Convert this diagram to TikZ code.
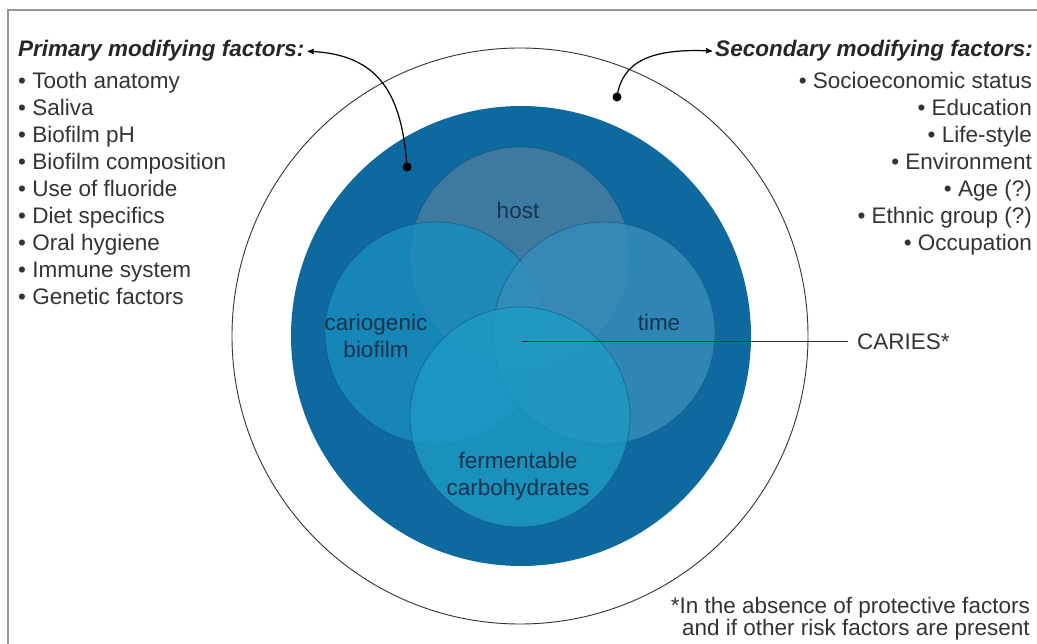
\documentclass[tikz,border=0pt]{standalone}
\usepackage{fontspec}
\setmainfont{Liberation Sans}
\usetikzlibrary{calc,positioning,arrows}
\definecolor{framegray}{RGB}{150,150,150}
\definecolor{darkring}{RGB}{14,106,158}
\definecolor{hostblue}{RGB}{75,126,160}
\definecolor{biofilmblue}{RGB}{24,141,190}
\definecolor{timeblue}{RGB}{54,141,187}
\definecolor{fermblue}{RGB}{29,155,195}
\definecolor{zonetext}{RGB}{22,50,78}
\tikzset{
>=stealth',
  factorhead/.style={
    font=\fontsize{22.5}{27}\selectfont\bfseries\itshape,
    text=black!85,
    inner sep=0pt},
  factorlist/.style={
    font=\fontsize{22.5}{27}\selectfont,
    text=black!80,
    inner sep=0pt},
  zone/.style={
    fill opacity=0.8,
    draw=darkring!70!black, draw opacity=0.5, line width=0.8pt},
  zonelabel/.style={
    font=\fontsize{22.5}{27}\selectfont,
    text=zonetext,
    align=center,
    inner sep=0pt},
  blackdot/.style={fill=black},
  pointer/.style={->, line width=1.2pt, shorten >=3pt},
}
\begin{document}
\begin{tikzpicture}[x=1pt,y=-1pt]
  \useasboundingbox (0,0) rectangle (1037,644);
  % frame
  \draw[framegray, line width=2pt] (8,644) -- (8,10) -- (1037,10);

  % outer ring and disc
  \draw[line width=0.9pt, black!80] (520,336) circle (288);
  \fill[darkring] (521,336) circle (230);

  % the four zones
  \path[zone, fill=hostblue]    (520,257) circle (110);
  \path[zone, fill=biofilmblue] (436,333) circle (111);
  \path[zone, fill=timeblue]    (604,333) circle (111);
  \path[zone, fill=fermblue]    (520,417) circle (110);

  \node[zonelabel] (host)    at (518,210) {host};
  \node[zonelabel] (biofilm) at (376,336) {cariogenic\\biofilm};
  \node[zonelabel] (time)    at (659,322) {time};
  \node[zonelabel] (ferm)    at (518,476) {fermentable\\carbohydrates};

  % caries
  \coordinate (cariescore) at (522,342);
  \node[factorlist, anchor=west] (caries) at (857,342) {CARIES*};
  \draw[line width=1pt, black!80, shorten >=9pt] (cariescore) -- (caries.west);

  % primary factors
  \node[factorhead, anchor=base west] (primhead) at (18,57) {Primary modifying factors:};
  \node[factorlist, anchor=north west, align=left] (primlist) at (18,72)
    {• Tooth anatomy\\ • Saliva\\ • Biofilm pH\\ • Biofilm composition\\
     • Use of fluoride\\ • Diet specifics\\ • Oral hygiene\\
     • Immune system\\ • Genetic factors};
  \coordinate (primdot) at (407,167);
  \fill[blackdot] (primdot) circle (4.5);
  \draw[pointer] (primdot) .. controls (402,95) and (380,54) .. (primhead.east);

  % secondary factors
  \node[factorhead, anchor=base east] (sechead) at (1033,57) {Secondary modifying factors:};
  \node[factorlist, anchor=north east, align=right] (seclist) at (1032,72)
    {• Socioeconomic status\\ • Education\\ • Life-style\\ • Environment\\
     • Age (?)\\ • Ethnic group (?)\\ • Occupation};
  \coordinate (secdot) at (617,97);
  \fill[blackdot] (secdot) circle (4.5);
  \draw[pointer] (secdot) .. controls (622,62) and (650,48) .. (sechead.west);

  % footnote
  \node[factorlist, anchor=base east, align=right,
        font=\fontsize{22.5}{21.5}\selectfont] (note) at (1030,635)
    {*In the absence of protective factors\\and if other risk factors are present};
\end{tikzpicture}
\end{document}
